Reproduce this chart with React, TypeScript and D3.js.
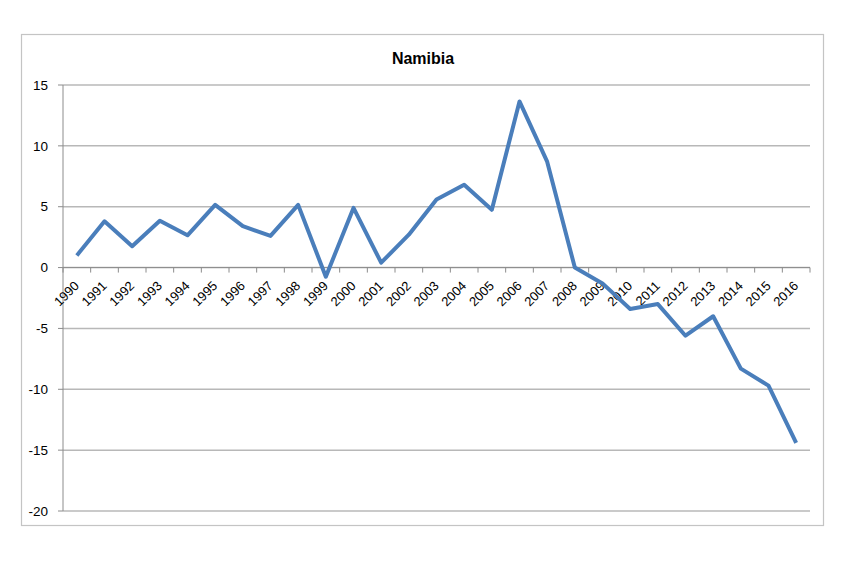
import React from "react";
import * as d3 from "d3";

const years = ["1990","1991","1992","1993","1994","1995","1996","1997","1998","1999","2000","2001","2002","2003","2004","2005","2006","2007","2008","2009","2010","2011","2012","2013","2014","2015","2016"];
const values = [1.0, 3.8, 1.75, 3.85, 2.65, 5.15, 3.4, 2.6, 5.15, -0.75, 4.9, 0.4, 2.7, 5.6, 6.8, 4.75, 13.65, 8.7, 0.0, -1.3, -3.4, -3.0, -5.6, -4.0, -8.3, -9.7, -14.4];
const yTicks = [15, 10, 5, 0, -5, -10, -15, -20];
const title = "Namibia";

export default function App() {
  const W = 842, H = 567;
  const left = 63, right = 810, top = 85, bottom = 511;
  const x = d3.scaleBand<string>().domain(years).range([left, right]).padding(0);
  const y = d3.scaleLinear().domain([-20, 15]).range([bottom, top]);
  const line = d3.line<number>().x((_, i) => (x(years[i]) as number) + x.bandwidth() / 2).y(d => y(d));
  const y0 = y(0);
  const font = "'Liberation Sans', Arial, sans-serif";
  const boundaries = years.map(yy => x(yy) as number).concat([right]);
  return (
    <svg width={W} height={H} style={{ position: "absolute", left: 0, top: 0 }} fontFamily={font}>
      <rect x={0} y={0} width={W} height={H} fill="#fff" />
      <rect x={21.5} y={34.5} width={802} height={491} fill="#fff" stroke="#c4c4c4" strokeWidth={1.2} />
      <text x={423} y={64} textAnchor="middle" fontSize={16} fontWeight="bold" fill="#000">{title}</text>
      {yTicks.map(t => (
        <g key={t}>
          <line x1={left} x2={right} y1={y(t)} y2={y(t)} stroke="#b8b8b8" strokeWidth={1.5} />
          <line x1={left - 5} x2={left} y1={y(t)} y2={y(t)} stroke="#8c8c8c" strokeWidth={1} />
          <text x={48} y={y(t)} dy="0.35em" textAnchor="end" fontSize={13.5} fill="#000">{t}</text>
        </g>
      ))}
      <line x1={left} x2={left} y1={top} y2={bottom} stroke="#8c8c8c" strokeWidth={1} />
      <line x1={left} x2={right} y1={y0} y2={y0} stroke="#8c8c8c" strokeWidth={1} />
      {boundaries.map((b, i) => (
        <line key={i} x1={b} x2={b} y1={y0} y2={y0 + 5} stroke="#8c8c8c" strokeWidth={1} />
      ))}
      {years.map(yy => {
        const cx = (x(yy) as number) + x.bandwidth() / 2;
        return (
          <text key={yy} transform={`translate(${cx + 3},${y0 + 19}) rotate(-45)`} textAnchor="end" fontSize={13} fill="#000">{yy}</text>
        );
      })}
      <path d={line(values) || ""} fill="none" stroke="#4a7ebb" strokeWidth={4} strokeLinejoin="round" />
    </svg>
  );
}
